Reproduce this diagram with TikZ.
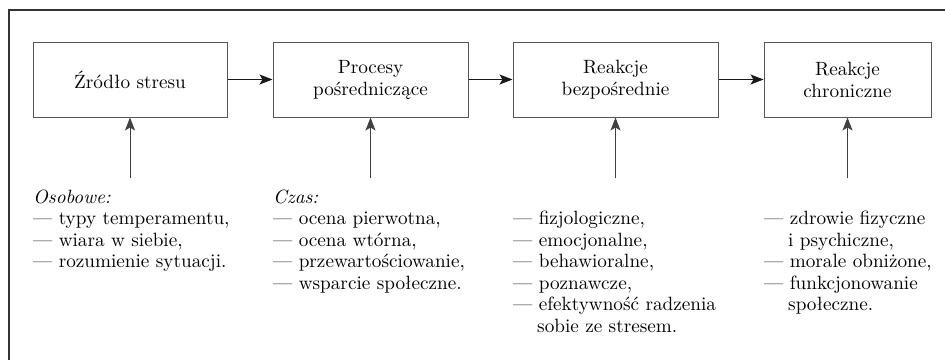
\documentclass[tikz,border=0pt]{standalone}
\usepackage{fontspec}
\setmainfont{lmroman10-regular}[Extension=.otf,ItalicFont=lmroman10-italic,BoldFont=lmroman10-bold]
\usetikzlibrary{arrows.meta}
\definecolor{frame}{HTML}{333333}
\definecolor{boxline}{HTML}{555555}
\begin{document}
\begin{tikzpicture}[x=1pt,y=-1pt,
  every node/.style={font=\fontsize{19.2}{22}\selectfont},
  stagebox/.style={draw=boxline,line width=1pt,minimum height=75pt,inner sep=0pt,align=center},
  flow/.style={-{Stealth[length=13pt,width=10pt,inset=3pt]},line width=1pt,draw=black!90},
  infl/.style={-{Stealth[length=13pt,width=10pt,inset=3pt]},line width=1pt,draw=black!75},
  item/.style={anchor=base west,inner sep=0pt},
  ind/.style={anchor=base west,inner sep=0pt,xshift=24pt}]
\useasboundingbox (0,0) rectangle (945,360);
\draw[frame,line width=1.6pt] (9,360) -- (9,10) -- (945,10);

\node[stagebox,minimum width=194pt] (b1) at (130,79.5) {Źródło stresu};
\node[stagebox,minimum width=195pt] (b2) at (370.5,79.5) {Procesy\\pośredniczące};
\node[stagebox,minimum width=205pt] (b3) at (615.5,79.5) {Reakcje\\bezpośrednie};
\node[stagebox,minimum width=167pt] (b4) at (847.5,79.5) {Reakcje\\chroniczne};

\draw[flow] (b1) -- (b2);
\draw[flow] (b2) -- (b3);
\draw[flow] (b3) -- (b4);

\coordinate (s1) at (130,178);
\coordinate (s2) at (370.5,178);
\coordinate (s3) at (615.5,178);
\coordinate (s4) at (847.5,178);
\draw[infl] (s1) -- (b1.south);
\draw[infl] (s2) -- (b2.south);
\draw[infl] (s3) -- (b3.south);
\draw[infl] (s4) -- (b4.south);

% column 1
\node[item] (o0) at (33,203) {\itshape Osobowe:};
\node[item] (o1) at (33,224.5) {— typy temperamentu,};
\node[item] (o2) at (33,246) {— wiara w siebie,};
\node[item] (o3) at (33,267.5) {— rozumienie sytuacji.};

% column 2
\node[item] (c0) at (273,203) {\itshape Czas:};
\node[item] (c1) at (273,224.5) {— ocena pierwotna,};
\node[item] (c2) at (273,246) {— ocena wtórna,};
\node[item] (c3) at (273,267.5) {— przewartościowanie,};
\node[item] (c4) at (273,289) {— wsparcie społeczne.};

% column 3
\node[item] (r1) at (513,224.5) {— fizjologiczne,};
\node[item] (r2) at (513,246) {— emocjonalne,};
\node[item] (r3) at (513,267.5) {— behawioralne,};
\node[item] (r4) at (513,289) {— poznawcze,};
\node[item] (r5) at (513,310.5) {— efektywność radzenia};
\node[ind] (r6) at (513,332) {sobie ze stresem.};

% column 4
\node[item] (h1) at (764,224.5) {— zdrowie fizyczne};
\node[ind] (h2) at (764,246) {i psychiczne,};
\node[item] (h3) at (764,267.5) {— morale obniżone,};
\node[item] (h4) at (764,289) {— funkcjonowanie};
\node[ind] (h5) at (764,310.5) {społeczne.};
\end{tikzpicture}
\end{document}
